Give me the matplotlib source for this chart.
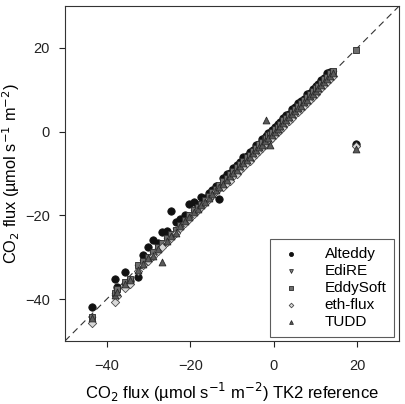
# plot.py
# Comparison of CO2 flux software packages against the TK2 reference.

import numpy as np
import matplotlib
matplotlib.use("Agg")
import matplotlib.pyplot as plt

plt.rcParams["font.family"] = ["Liberation Sans", "DejaVu Sans"]

# TK2 reference flux (x), shared by all packages
tk2 = [-43.5, -38.0, -37.6, -35.6, -34.4, -32.5, -31.2, -30.0, -29.0, -27.8,
       -26.7, -25.6, -24.6, -23.5, -22.4, -21.2, -20.2, -19.0, -18.2, -17.4,
       -16.5, -15.6, -14.7, -13.8, -13.0, -12.1, -11.3, -10.5, -9.7, -8.9,
       -8.1, -7.3, -6.5, -5.8, -5.0, -4.2, -3.5, -2.8, -2.1, -1.8,
       -1.3, -1.0, -0.5, 0.2, 0.9, 1.6, 2.3, 3.0, 3.7, 4.4,
       5.1, 5.8, 6.5, 7.2, 7.9, 8.6, 9.3, 10.0, 10.7, 11.4,
       12.1, 12.8, 13.5, 14.2, 19.6]

alteddy = [-41.8, -35.2, -37.0, -33.6, -35.6, -34.6, -29.4, -27.6, -25.8, -26.5,
           -24.0, -23.8, -19.0, -21.6, -20.9, -19.8, -17.4, -16.9, -17.6, -15.5,
           -15.8, -14.6, -13.9, -13.0, -16.0, -11.0, -10.2, -9.9, -8.6, -8.0,
           -7.2, -6.1, -5.8, -4.9, -4.4, -3.2, -2.9, -1.8, -1.5, -1.0,
           -0.4, -0.3, 0.4, 1.0, 1.8, 2.2, 3.2, 3.9, 4.3, 5.3,
           5.8, 6.9, 7.3, 7.9, 8.9, 9.2, 10.3, 10.8, 11.5, 12.4,
           12.8, 13.9, 14.3, np.nan, -2.9]

edire = [-45.0, -39.8, -38.2, -36.8, -35.8, -32.6, -31.4, -30.6, -29.4, -28.4,
         -27.2, -26.0, -25.0, -23.8, -22.8, -21.6, -20.6, -19.4, -18.6, -17.8,
         -16.8, -15.9, -15.0, -14.0, -13.3, -12.9, -11.8, -11.4, -10.2, -9.7,
         -8.7, -8.0, -7.3, -6.3, -5.8, -4.8, -4.3, -3.3, -2.9, -2.5,
         -1.8, -1.7, -1.1, -0.5, 0.2, 1.0, 1.6, 2.4, 3.2, 3.7,
         4.5, 5.2, 5.9, 6.5, 7.4, 8.0, 8.6, 9.5, 10.0, 10.9,
         11.5, 12.2, 13.0, 13.8, -3.9]

eddysoft = [-44.2, -38.6, -37.6, -36.0, -35.2, -31.9, -30.8, -30.0, -28.8, -27.6,
            -26.5, -25.4, -24.4, -23.4, -22.2, -21.0, -20.0, -18.8, -18.0, -17.2,
            -16.3, -15.4, -14.5, -13.6, -12.8, -11.7, -11.0, -10.0, -9.3, -8.4,
            -7.8, -6.9, -6.0, -5.5, -4.6, -3.9, -3.0, -2.4, -1.8, -1.4,
            -0.9, -0.6, -0.1, 0.6, 1.2, 1.9, 2.7, 3.3, 4.0, 4.8,
            5.4, 6.1, 6.9, 7.5, 8.2, 9.0, 9.6, 10.4, 11.0, 11.7,
            12.5, 13.1, 13.9, 14.6, 19.6]

ethflux = [-45.8, -40.8, -39.2, -37.4, -36.4, -33.2, -31.8, -31.0, -29.8, -28.6,
           -27.6, -26.4, -25.4, -24.2, -23.0, -21.8, -20.8, -19.6, -18.8, -18.0,
           -17.0, -16.1, -15.2, -14.2, -13.4, -13.2, -12.3, -11.8, -10.7, -10.1,
           -9.1, -8.5, -7.6, -6.9, -6.1, -5.3, -4.6, -3.8, -3.2, -2.8,
           -2.3, -2.0, -1.5, -0.8, -0.2, 0.5, 1.2, 2.0, 2.6, 3.3,
           4.1, 4.7, 5.5, 6.2, 6.9, 7.6, 8.3, 9.0, 9.7, 10.4,
           11.1, 11.8, 12.5, 13.2, -3.5]

tudd = [-44.6, -39.0, -38.4, -36.4, -35.4, -33.0, -31.6, -30.2, -29.6, -28.0,
        -31.2, -26.2, -25.0, -24.2, -22.6, -21.4, -20.4, -19.2, -18.4, -17.6,
        -16.8, -15.8, -14.9, -13.9, -13.2, -12.4, -11.6, -10.7, -9.9, -9.2,
        -8.3, -7.6, -6.7, -6.1, -5.2, -4.5, -3.7, -3.1, -2.3, 2.9,
        -1.6, -3.3, -0.8, -0.1, 0.7, 1.3, 2.0, 2.8, 3.5, 4.1,
        4.9, 5.6, 6.2, 7.0, 7.6, 8.4, 9.1, 9.7, 10.5, 11.2,
        11.8, 12.6, 13.3, 14.0, -4.2]

series = [
    ("Alteddy", alteddy, "o", "#111111", "#111111", 28),
    ("EdiRE", edire, "v", "#8a8a8a", "#2a2a2a", 24),
    ("EddySoft", eddysoft, "s", "#6e6e6e", "#2a2a2a", 20),
    ("eth-flux", ethflux, "D", "#d8d8d8", "#4a4a4a", 18),
    ("TUDD", tudd, "^", "#5a5a5a", "#2a2a2a", 24),
]

fig = plt.figure(figsize=(4.06, 4.04), dpi=100)
ax = fig.add_axes([0.160, 0.156, 0.823, 0.829])

ax.plot([-50, 30], [-50, 30], color="#333333", lw=0.8, ls=(0, (6, 4)), zorder=1)

for name, vals, mk, fc, ec, s in series:
    ax.scatter(tk2, vals, marker=mk, s=s, facecolor=fc, edgecolor=ec,
               linewidths=0.6, label=name, zorder=2)

ax.set_xlim(-50, 30)
ax.set_ylim(-50, 30)
ticks = [-40, -20, 0, 20]
ax.set_xticks(ticks)
ax.set_yticks(ticks)
ax.tick_params(axis="both", direction="out", length=4, width=0.8,
               labelsize=10.5, colors="#222222")
ax.tick_params(axis="x", pad=9)
ax.tick_params(axis="y", pad=7)
for sp in ax.spines.values():
    sp.set_linewidth(0.8)
    sp.set_color("#333333")

ax.set_xlabel(r"CO$_2$ flux (µmol s$^{-1}$ m$^{-2}$) TK2 reference",
              fontsize=12, labelpad=6)
ax.set_ylabel(r"CO$_2$ flux (µmol s$^{-1}$ m$^{-2}$)", fontsize=11.8)
ax.yaxis.set_label_coords(-0.128, 0.5)

leg = ax.legend(loc="lower right", bbox_to_anchor=(0.985, 0.012), fontsize=11,
                frameon=True, fancybox=False, edgecolor="#333333",
                markerscale=0.55, handletextpad=1.3, labelspacing=0.2,
                borderpad=0.5, handlelength=1.8, borderaxespad=0.0)
leg.get_frame().set_linewidth(0.8)

fig.savefig("out.png", dpi=100)
